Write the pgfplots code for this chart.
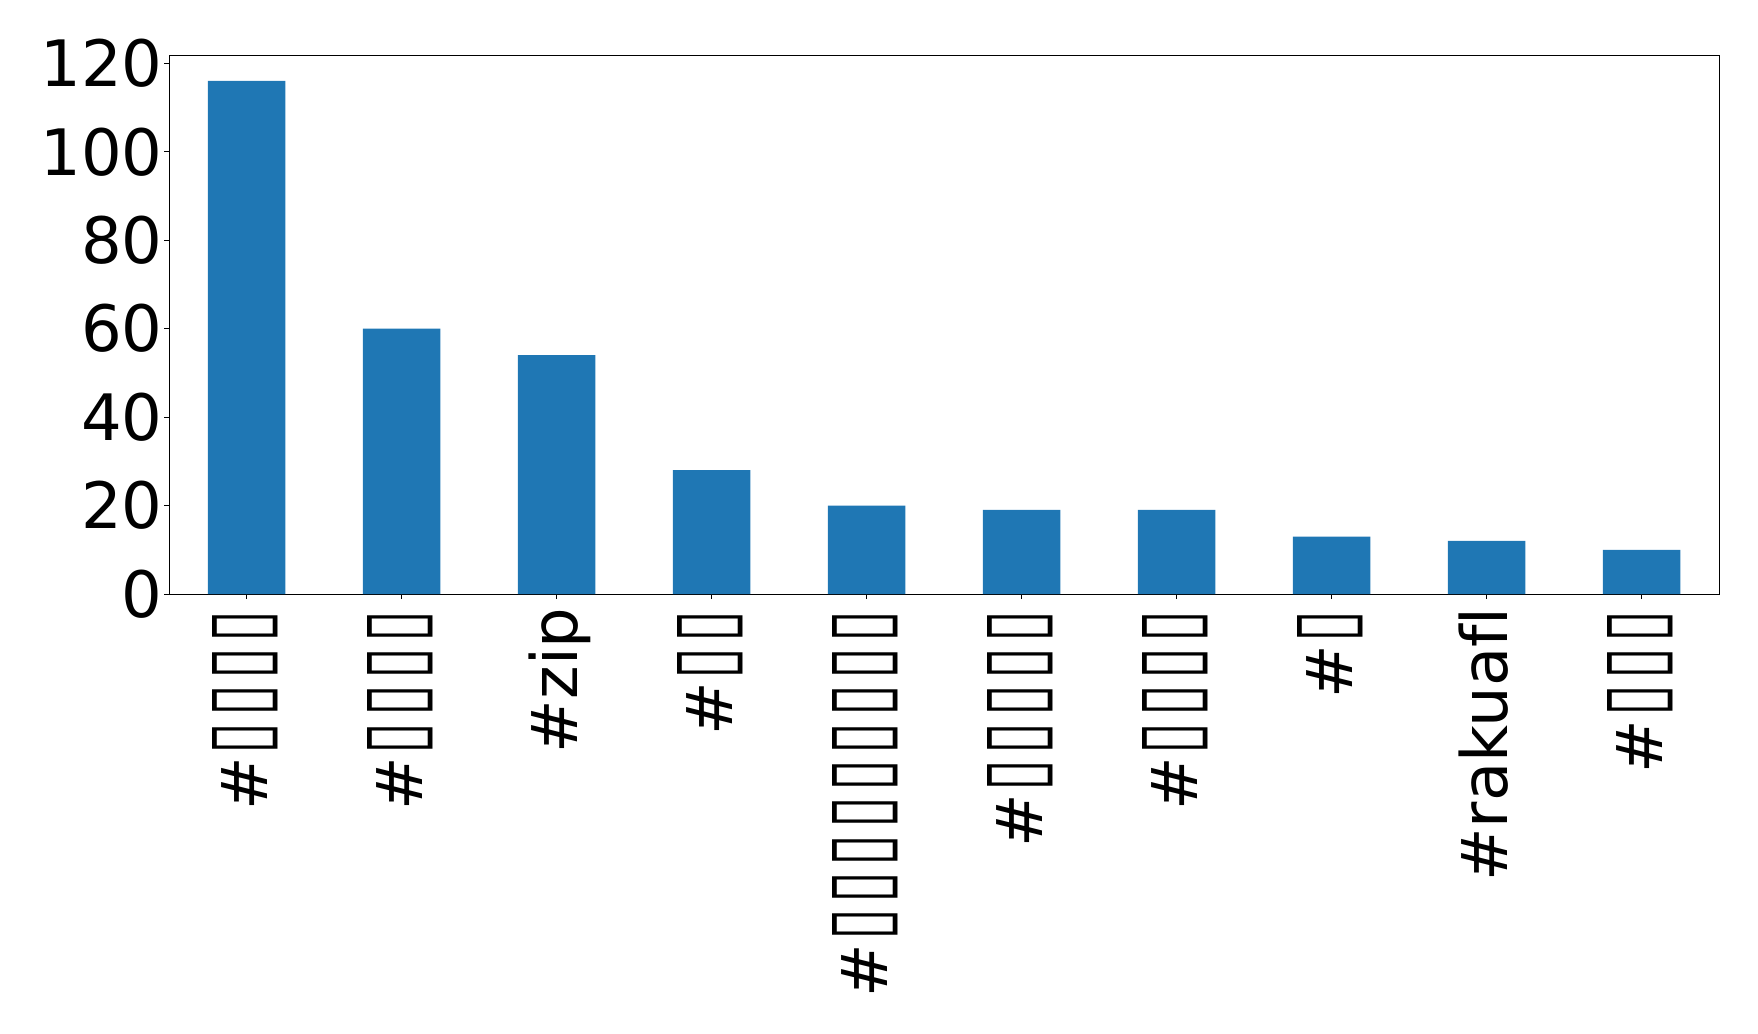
\documentclass[border=0pt]{standalone}
\usepackage{fontspec}
\setmainfont{DejaVu Sans}[Ligatures=CommonOff]
\usepackage{pgfplots}
\pgfplotsset{compat=1.18}
\definecolor{barblue}{HTML}{1F77B4}
\newcommand\tofu{\makebox[18.67pt]{\resizebox{16pt}{27.5pt}{▯}}}
\begin{document}
\begin{tikzpicture}
\useasboundingbox (0,0) rectangle (879pt,517pt);
\begin{axis}[
  at={(84.5pt,220pt)}, anchor=south west,
  scale only axis, width=775pt, height=269.35pt,
  xmin=-0.5, xmax=9.5, ymin=0, ymax=121.8,
  ytick={0,20,40,60,80,100,120},
  xtick={0,...,9},
  xticklabels={\#\tofu\tofu\tofu\tofu,\#\tofu\tofu\tofu\tofu,\#zip,\#\tofu\tofu,\#\tofu\tofu\tofu\tofu\tofu\tofu\tofu\tofu\tofu,\#\tofu\tofu\tofu\tofu\tofu,\#\tofu\tofu\tofu\tofu,\#\tofu,\#rakuafl,\#\tofu\tofu\tofu},
  tick align=outside, tick pos=left,
  major tick length=2.5pt,
  axis line style={line width=0.5pt},
  every tick/.style={line width=0.5pt, black},
  /pgf/number format/assume math mode=true,
  ticklabel style={font=\fontsize{32}{38}\selectfont, inner sep=0pt},
  yticklabel style={anchor=east, xshift=-0.5pt},
  xticklabel style={rotate=90, anchor=east, text height=27.5pt, text depth=0pt, xshift=-4pt, yshift=3.25pt},
  ybar, bar width=38.75pt,
]
\addplot[fill=barblue, draw=none, bar shift=0pt] coordinates {
(0,116) (1,60) (2,54) (3,28) (4,20) (5,19) (6,19) (7,13) (8,12) (9,10)};
\end{axis}
\end{tikzpicture}
\end{document}
